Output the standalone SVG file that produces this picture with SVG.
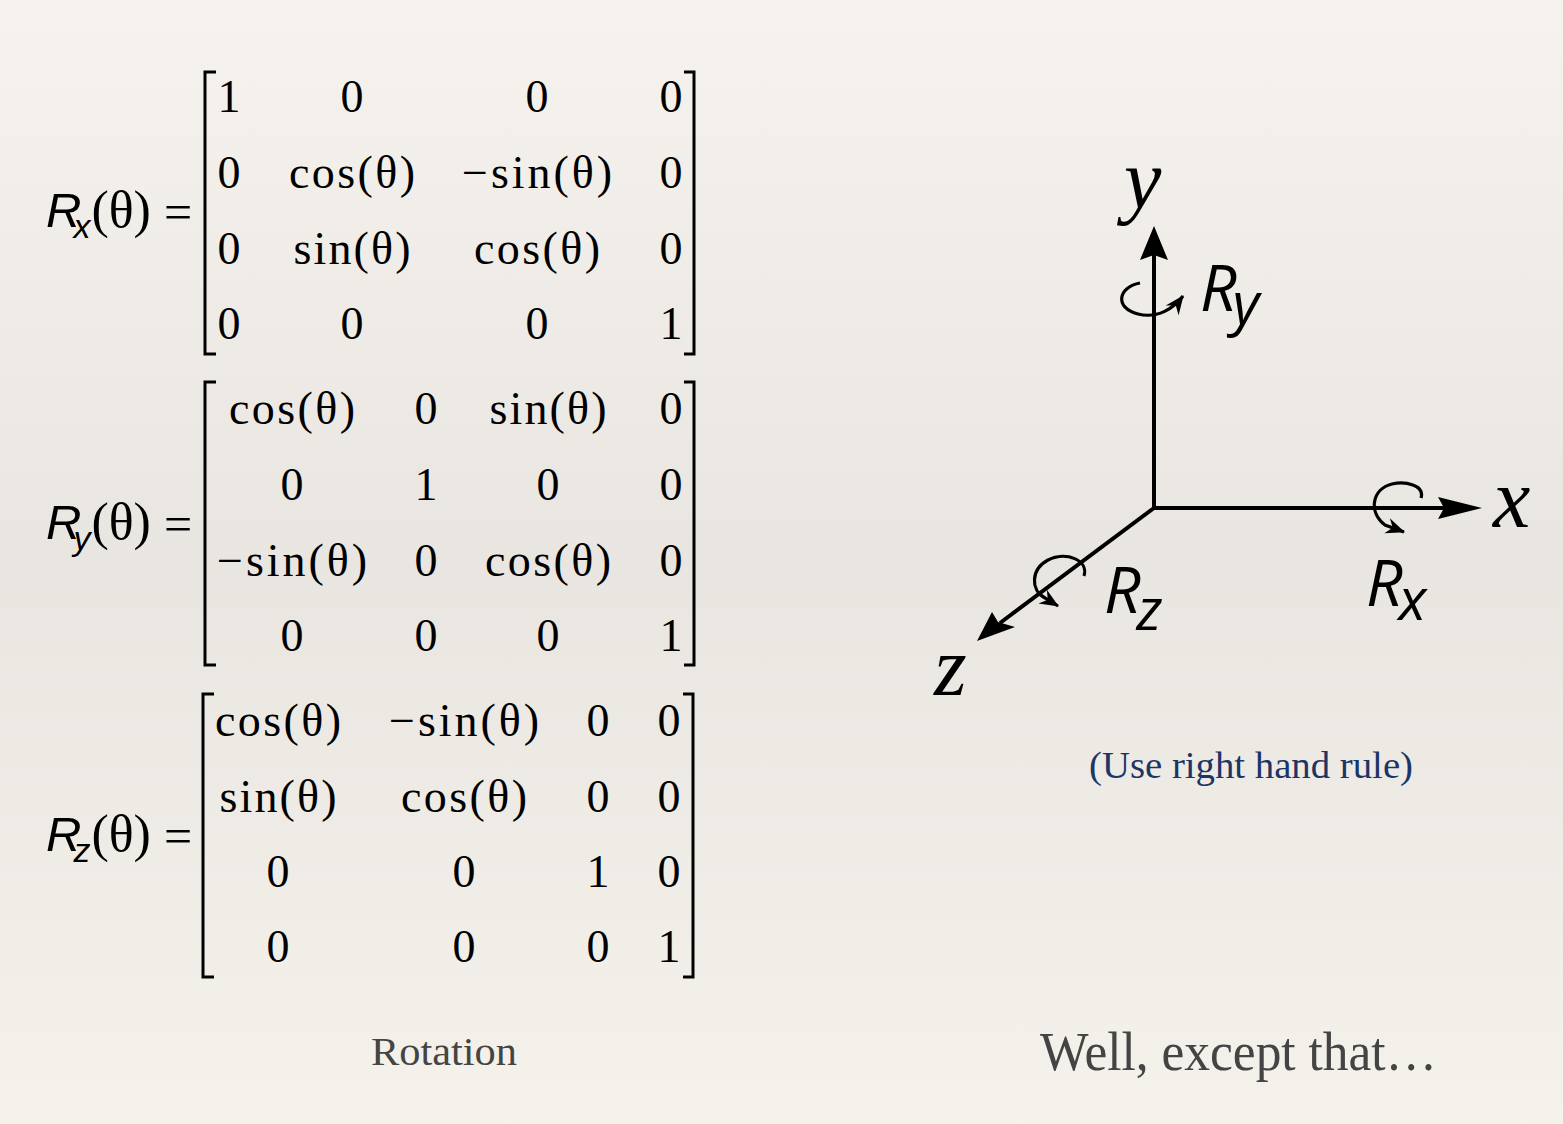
<svg xmlns="http://www.w3.org/2000/svg" width="1563" height="1124" viewBox="0 0 1563 1124">
<defs>
<linearGradient id="bg" x1="0" y1="0" x2="0" y2="1">
<stop offset="0" stop-color="#f6f3ee"/>
<stop offset="0.5" stop-color="#e9e6e1"/>
<stop offset="1" stop-color="#f5f2ec"/>
</linearGradient>
<marker id="rot" viewBox="-20 -10 22 20" refX="0" refY="0" markerWidth="22" markerHeight="20" markerUnits="userSpaceOnUse" orient="auto" overflow="visible">
<path d="M-18,-8 L1,0 L-18,8 L-12,0 Z" fill="#000"/>
</marker>
<style>
.m{font-family:"Liberation Serif","Times New Roman",serif;font-size:46px;fill:#000;text-anchor:middle}
.lab{font-family:"Liberation Serif","Times New Roman",serif;font-size:50px;fill:#000}
.R{font-family:"Liberation Sans",Arial,sans-serif;font-style:italic;font-size:49px;fill:#000}
.sub{font-family:"Liberation Sans",Arial,sans-serif;font-style:italic;font-size:34px}
.th{font-family:"Liberation Serif","Times New Roman",serif;font-style:normal;font-size:52px}
.br{fill:none;stroke:#000;stroke-width:3}
.ax{fill:none;stroke:#000;stroke-width:4}
.rot{fill:none;stroke:#000;stroke-width:3.2}
.AR{font-family:"Open Sans","Noto Sans",sans-serif;font-style:italic;font-size:64px;fill:#000}
.ARs{font-size:58px}
.axl{font-family:"Liberation Serif","Times New Roman",serif;font-style:italic;font-size:84px;fill:#000}
.cap{font-family:"Liberation Serif","Times New Roman",serif;fill:#444}
</style>
</defs>
<rect width="1563" height="1124" fill="url(#bg)"/>

<g id="Rx">
<text class="R" x="46" y="227">R<tspan class="sub" dx="-8" dy="11">x</tspan><tspan class="th" dx="1" dy="-11">(θ)</tspan></text>
<text class="lab" x="164" y="229">=</text>
<path class="br" d="M216,72 H205 V354 H216"/>
<path class="br" d="M684,72 H694 V354 H684"/>
<text class="m" x="229" y="112">1</text><text class="m" x="352" y="112">0</text><text class="m" x="537" y="112">0</text><text class="m" x="671" y="112">0</text>
<text class="m" x="229" y="188">0</text><text class="m" x="352" y="188" textLength="126" lengthAdjust="spacing">cos(θ)</text><text class="m" x="537" y="188" textLength="150" lengthAdjust="spacing">−sin(θ)</text><text class="m" x="671" y="188">0</text>
<text class="m" x="229" y="264">0</text><text class="m" x="352" y="264" textLength="117" lengthAdjust="spacing">sin(θ)</text><text class="m" x="537" y="264" textLength="126" lengthAdjust="spacing">cos(θ)</text><text class="m" x="671" y="264">0</text>
<text class="m" x="229" y="339">0</text><text class="m" x="352" y="339">0</text><text class="m" x="537" y="339">0</text><text class="m" x="671" y="339">1</text>
</g>

<g id="Ry">
<text class="R" x="46" y="539">R<tspan class="sub" dx="-8" dy="11">y</tspan><tspan class="th" dx="1" dy="-11">(θ)</tspan></text>
<text class="lab" x="164" y="541">=</text>
<path class="br" d="M216,382 H205 V665 H216"/>
<path class="br" d="M684,382 H694 V665 H684"/>
<text class="m" x="292" y="424" textLength="126" lengthAdjust="spacing">cos(θ)</text><text class="m" x="426" y="424">0</text><text class="m" x="548" y="424" textLength="117" lengthAdjust="spacing">sin(θ)</text><text class="m" x="671" y="424">0</text>
<text class="m" x="292" y="500">0</text><text class="m" x="426" y="500">1</text><text class="m" x="548" y="500">0</text><text class="m" x="671" y="500">0</text>
<text class="m" x="292" y="576" textLength="150" lengthAdjust="spacing">−sin(θ)</text><text class="m" x="426" y="576">0</text><text class="m" x="548" y="576" textLength="126" lengthAdjust="spacing">cos(θ)</text><text class="m" x="671" y="576">0</text>
<text class="m" x="292" y="651">0</text><text class="m" x="426" y="651">0</text><text class="m" x="548" y="651">0</text><text class="m" x="671" y="651">1</text>
</g>

<g id="Rz">
<text class="R" x="46" y="851">R<tspan class="sub" dx="-8" dy="11">z</tspan><tspan class="th" dx="1" dy="-11">(θ)</tspan></text>
<text class="lab" x="164" y="853">=</text>
<path class="br" d="M214,694 H203 V977 H214"/>
<path class="br" d="M683,694 H693 V977 H683"/>
<text class="m" x="278" y="736" textLength="126" lengthAdjust="spacing">cos(θ)</text><text class="m" x="464" y="736" textLength="150" lengthAdjust="spacing">−sin(θ)</text><text class="m" x="598" y="736">0</text><text class="m" x="669" y="736">0</text>
<text class="m" x="278" y="812" textLength="117" lengthAdjust="spacing">sin(θ)</text><text class="m" x="464" y="812" textLength="126" lengthAdjust="spacing">cos(θ)</text><text class="m" x="598" y="812">0</text><text class="m" x="669" y="812">0</text>
<text class="m" x="278" y="887">0</text><text class="m" x="464" y="887">0</text><text class="m" x="598" y="887">1</text><text class="m" x="669" y="887">0</text>
<text class="m" x="278" y="962">0</text><text class="m" x="464" y="962">0</text><text class="m" x="598" y="962">0</text><text class="m" x="669" y="962">1</text>
</g>

<g id="connectors">
<path class="ax" d="M1154,508 V250"/>
<path class="ax" d="M1154,508 H1450"/>
<path class="ax" d="M1154,508 L1000,623"/>
<polygon points="1154,226 1168,260 1154,255 1140,260" fill="#000"/>
<polygon points="1482,508 1438,497 1444,508 1438,519" fill="#000"/>
<polygon points="977,641 992,612 998,622 1015,627" fill="#000"/>
<path class="rot" d="M1140,283 C1118,287 1114,308 1138,314 C1158,319 1174,308 1183,296" marker-end="url(#rot)"/>
<path class="rot" d="M1084,576 C1089,560 1066,551 1048,560 C1031,569 1030,590 1045,598 L1058,606" marker-end="url(#rot)"/>
<path class="rot" d="M1421,498 C1425,485 1405,481 1392,484 C1372,489 1368,512 1385,525 L1404,532" marker-end="url(#rot)"/>
</g>

<g id="axis-labels">
<text class="axl" x="1124" y="208">y</text>
<text class="axl" x="1493" y="527">x</text>
<text class="axl" x="934" y="695">z</text>
<text class="AR" x="1200" y="311">R<tspan class="ARs" dx="-4" dy="13">y</tspan></text>
<text class="AR" x="1104" y="613">R<tspan class="ARs" dx="-4" dy="17">z</tspan></text>
<text class="AR" x="1366" y="606">R<tspan class="ARs" dx="-4" dy="14">x</tspan></text>
</g>

<text x="1251" y="778" text-anchor="middle" font-family="Liberation Serif, serif" font-size="38" fill="#1c3564" textLength="324" lengthAdjust="spacingAndGlyphs">(Use right hand rule)</text>
<text class="cap" x="444" y="1065" text-anchor="middle" font-size="40" textLength="146" lengthAdjust="spacingAndGlyphs">Rotation</text>
<text class="cap" x="1040" y="1070" font-size="54" textLength="397" lengthAdjust="spacingAndGlyphs">Well, except that…</text>
</svg>
